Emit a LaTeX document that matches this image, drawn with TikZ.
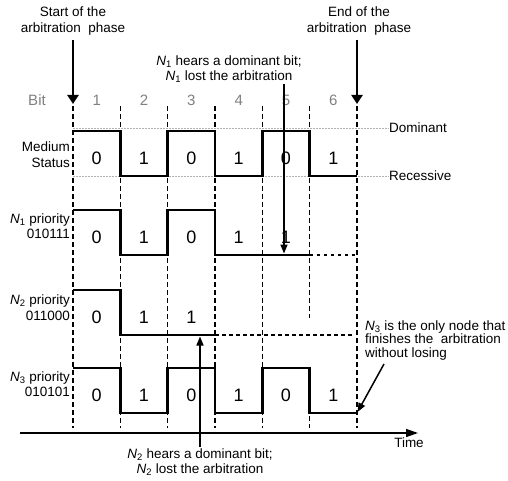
\documentclass[tikz,border=0pt]{standalone}
\usepackage{fontspec}
\setmainfont{Liberation Sans}
\usetikzlibrary{arrows.meta}
\newcommand{\Nsub}[1]{\textit{N}\textsubscript{#1}}
\begin{document}
\begin{tikzpicture}[x=1pt,y=-1pt,
  lbl/.style={font=\fontsize{13.5}{16}\selectfont, inner sep=0pt, align=center},
  leftlbl/.style={lbl, align=right, anchor=east},
  bitnum/.style={font=\fontsize{15}{17}\selectfont, text=black!50, inner sep=0pt},
  digit/.style={font=\fontsize{18}{20}\selectfont, inner sep=0pt},
  sig/.style={line width=2.9pt, line join=miter},
  ext/.style={line width=2.9pt, dash pattern=on 3.5pt off 3.5pt},
  gridline/.style={line width=1.35pt, dash pattern=on 5pt off 3pt},
  level/.style={black!30, line width=0.8pt, dash pattern=on 2pt off 1pt},
  bigarrow/.style={line width=2.6pt, -{Triangle[width=11pt,length=9pt]}},
  note/.style={line width=1.5pt, -{Triangle[width=7pt,length=9pt]}},
  axis/.style={line width=1.5pt, -{Triangle[width=8pt,length=12pt]}},
]
\useasboundingbox (0,0) rectangle (508,481);

% bit boundaries
\foreach \i/\x in {0/73,1/120.3,2/167.7,3/215,4/262.3,5/309.7,6/357}
  \coordinate (b\i) at (\x,0);

% dashed bit boundaries
\foreach \x in {73,120.3,167.7,215,262.3,357}
  \draw[gridline] (\x,106) -- (\x,428);
\draw[gridline] (309.7,106) -- (309.7,318);
\draw[gridline] (309.7,368) -- (309.7,428);

% bus levels
\node[lbl, anchor=west] (dom) at (389,128) {Dominant};
\node[lbl, anchor=west] (rec) at (389,176) {Recessive};
\draw[level] (73,128) -- (dom.west);
\draw[level] (73,176) -- (rec.west);

% bit numbers
\node[bitnum] (bitlbl) at (37,100) {Bit};
\foreach \n/\x in {1/96.7,2/144,3/191.3,4/238.7,5/286,6/333.3}
  \node[bitnum] (bn\n) at (\x,100) {\n};

% phase markers
\node[lbl] (start) at (73,21.5) {Start of the\\arbitration\ \ phase};
\node[lbl] (end) at (359,21.5) {End of the\\arbitration\ \ phase};
\coordinate (startTip) at (73,104);
\coordinate (endTip) at (357,104);
\draw[bigarrow] (73,40) -- (startTip);
\draw[bigarrow] (357,40) -- (endTip);

% row labels
\node[leftlbl] (med) at (70,155) {Medium\\Status};
\node[leftlbl, font=\fontsize{13.5}{15.5}\selectfont] (p1) at (70,226) {\Nsub{1} priority\\010111};
\node[leftlbl, font=\fontsize{13.5}{15.5}\selectfont] (p2) at (70,307.5) {\Nsub{2} priority\\011000};
\node[leftlbl, font=\fontsize{13.5}{15.5}\selectfont] (p3) at (70,384) {\Nsub{3} priority\\010101};

% medium status
\draw[sig] (73,131) -| (120.3,176) -| (167.7,131) -| (215,176) -| (262.3,131) -| (309.7,176) -- (357,176);
% N1
\draw[sig] (73,210) -| (120.3,255) -| (167.7,210) -| (215,255) -- (309.7,255);
\draw[ext] (309.7,255) -- (357,255);
% N2
\draw[sig] (73,290) -| (120.3,335) -- (215,335);
\draw[ext] (215,335) -- (352,335);
% N3
\draw[sig] (73,368) -| (120.3,413) -| (167.7,368) -| (215,413) -| (262.3,368) -| (309.7,413) -- (357,413);

% bit values
\foreach \v [count=\k] in {0,1,0,1,0,1}
  \node[digit] (m\k) at ({73+47.33*(\k-0.5)},158.5) {\v};
\foreach \v [count=\k] in {0,1,0,1,1}
  \node[digit] (a\k) at ({73+47.33*(\k-0.5)},237.5) {\v};
\foreach \v [count=\k] in {0,1,1}
  \node[digit] (c\k) at ({73+47.33*(\k-0.5)},317.5) {\v};
\foreach \v [count=\k] in {0,1,0,1,0,1}
  \node[digit] (d\k) at ({73+47.33*(\k-0.5)},395.5) {\v};

% time axis
\coordinate (t0) at (20,433);
\coordinate (t1) at (418,433);
\draw[axis] (t0) -- (t1);
\node[lbl] (time) at (409,443) {Time};

% N1 loses
\node[lbl, font=\fontsize{13.5}{15}\selectfont] (n1note) at (229,69.5)
  {\Nsub{1} hears a dominant bit;\\\Nsub{1} lost the arbitration};
\coordinate (n1tail) at (284,84);
\coordinate (n1tip) at (284,253.5);
\draw[note] (n1tail) -- (n1tip);

% N2 loses
\node[lbl, font=\fontsize{13.5}{14.5}\selectfont] (n2note) at (200,462)
  {\Nsub{2} hears a dominant bit;\\\Nsub{2} lost the arbitration};
\coordinate (n2tail) at (200,447);
\coordinate (n2tip) at (200,336.5);
\draw[note] (n2tail) -- (n2tip);

% N3 wins
\node[lbl, align=left, anchor=west, font=\fontsize{13.5}{13.5}\selectfont] (n3note) at (365,340.5)
  {\Nsub{3} is the only node that\\finishes the\ \ arbitration\\without losing};
\coordinate (n3tail) at (384,364);
\coordinate (n3tip) at (357.5,412);
\draw[note] (n3tail) -- (n3tip);
\end{tikzpicture}
\end{document}
